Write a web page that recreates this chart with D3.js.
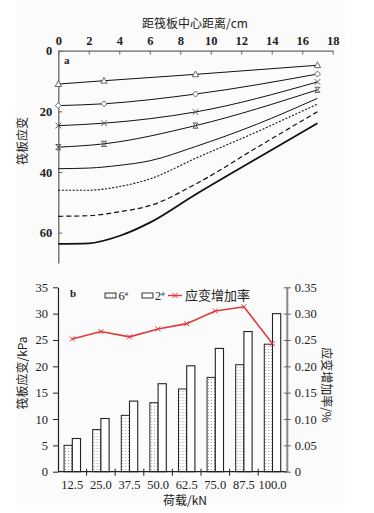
<!DOCTYPE html>
<html>
<head>
<meta charset="utf-8">
<script src="https://cdn.jsdelivr.net/npm/d3@7"></script>
<style>
  body { margin: 0; background: #fff; }
  svg { display: block; }
</style>
</head>
<body>
<div id="chart"></div>
<script>
// ---- panel a: strain vs distance from raft centre ----
const distances = [0, 3, 9, 17];
const distancesFine = [0, 2, 4, 6, 9, 13, 17];
const curveA1 = [11.0, 9.9, 7.8, 4.8];     // triangle
const curveA2 = [18.1, 17.5, 14.3, 7.7];   // diamond
const curveA3 = [24.7, 23.9, 20.2, 10.3];  // cross
const curveA4 = [31.8, 30.7, 24.7, 12.9];  // asterisk
const curveA5 = [38.9, 38.7, 37.8, 36.3, 31.6, 24.3, 15.7];  // solid, no marker
const curveA6 = [46.0, 46.0, 44.8, 42.3, 35.5, 26.8, 17.6];  // dotted
const curveA7 = [54.6, 54.4, 53.1, 51.1, 44.0, 32.0, 20.1];  // dashed
const curveA8 = [63.7, 63.5, 61.1, 56.7, 47.4, 35.6, 23.9];  // thick solid
const xTicksA = [0, 2, 4, 6, 8, 10, 12, 14, 16, 18];
const yTicksA = [0, 20, 40, 60];

// ---- panel b: strain by load ----
const loads = ['12.5', '25.0', '37.5', '50.0', '62.5', '75.0', '87.5', '100.0'];
const raft6 = [5.0, 8.0, 10.7, 13.1, 15.7, 17.9, 20.3, 24.2];
const raft2 = [6.3, 10.1, 13.4, 16.7, 20.1, 23.4, 26.6, 30.0];
const growthRate = [0.252, 0.266, 0.256, 0.271, 0.281, 0.305, 0.313, 0.243];
const yTicksB = [0, 5, 10, 15, 20, 25, 30, 35];
const yTicksB2 = [0, 0.05, 0.10, 0.15, 0.20, 0.25, 0.30, 0.35];

const SERIF = '"Liberation Serif", "DejaVu Serif", "Times New Roman", serif';
const CJK = '"Noto Sans CJK SC", "Noto Sans", sans-serif';

const width = 374, height = 513;
const svg = d3.select('#chart').append('svg')
  .attr('width', width).attr('height', height);

svg.append('rect').attr('x', 16).attr('y', 0).attr('width', 329).attr('height', 505)
  .attr('fill', '#fbfbfb');

function numStyle(sel, bold) {
  sel.style('font-family', SERIF).style('font-size', '12.5px').style('fill', '#222')
    .style('font-weight', bold ? 'bold' : 'normal');
}
function cjkText(x, y, txt, rot) {
  const t = svg.append('text')
    .style('font-family', CJK).style('font-size', '12px').style('fill', '#222')
    .attr('text-anchor', 'middle').text(txt);
  t.attr('transform', `translate(${x},${y})` + (rot ? ` rotate(${rot})` : ''));
  return t;
}

// ================= panel a =================
const xA = d3.scaleLinear().domain([0, 18]).range([58.3, 332.7]);
const yA = d3.scaleLinear().domain([0, 70]).range([50.7, 263]);

const axisColor = '#666';

// top axis
const topAxis = svg.append('g').attr('transform', `translate(0,${yA(0)})`)
  .call(d3.axisTop(xA).tickValues(xTicksA).tickSizeInner(-4).tickSizeOuter(0).tickPadding(6));
topAxis.select('.domain').attr('stroke', axisColor).attr('stroke-width', 1.3);
topAxis.selectAll('.tick line').attr('stroke', axisColor);
topAxis.selectAll('.tick text').call(numStyle, true);

// left axis
const leftAxisA = svg.append('g').attr('transform', `translate(${xA(0)},0)`)
  .call(d3.axisLeft(yA).tickValues(yTicksA).tickSizeInner(-4).tickSizeOuter(0).tickPadding(6));
leftAxisA.select('.domain').attr('stroke', axisColor).attr('stroke-width', 1.3);
leftAxisA.selectAll('.tick line').attr('stroke', axisColor);
leftAxisA.selectAll('.tick text').call(numStyle, true);

cjkText(195, 28, '距筏板中心距离/cm');
cjkText(27, 141, '筏板应变', -90);
svg.append('text').attr('x', 64).attr('y', 64).text('a')
  .call(numStyle, true).style('font-size', '11px');

const lineCoarse = d3.line()
  .x((d, i) => xA(distances[i])).y(d => yA(d))
  .curve(d3.curveMonotoneX);
const lineFine = d3.line()
  .x((d, i) => xA(distancesFine[i])).y(d => yA(d))
  .curve(d3.curveMonotoneX);

const seriesA = [
  { values: curveA1, marker: 'triangle', dash: null, w: 1 },
  { values: curveA2, marker: 'diamond', dash: null, w: 1 },
  { values: curveA3, marker: 'cross', dash: null, w: 1 },
  { values: curveA4, marker: 'asterisk', dash: null, w: 1 },
  { values: curveA5, marker: null, dash: null, w: 1 },
  { values: curveA6, marker: null, dash: '2,1.6', w: 1.1 },
  { values: curveA7, marker: null, dash: '5,3', w: 1.2 },
  { values: curveA8, marker: null, dash: null, w: 1.8 }
];

seriesA.forEach(s => {
  const gen = s.marker ? lineCoarse : lineFine;
  svg.append('path')
    .attr('d', gen(s.values))
    .attr('fill', 'none')
    .attr('stroke', '#111')
    .attr('stroke-width', s.w)
    .attr('stroke-dasharray', s.dash);

  if (!s.marker) return;
  s.values.forEach((v, i) => {
    const g = svg.append('g').attr('transform', `translate(${xA(distances[i])},${yA(v)})`);
    if (s.marker === 'triangle') {
      g.append('path').attr('d', 'M0,-3.3L3.2,2.4L-3.2,2.4Z').attr('fill', '#fff').attr('stroke', '#555').attr('stroke-width', 0.9);
    } else if (s.marker === 'diamond') {
      g.append('path').attr('d', 'M0,-3L3,0L0,3L-3,0Z').attr('fill', '#fff').attr('stroke', '#555').attr('stroke-width', 0.9);
    } else if (s.marker === 'cross') {
      g.append('path').attr('d', 'M-2.8,-2.8L2.8,2.8M-2.8,2.8L2.8,-2.8').attr('stroke', '#555').attr('stroke-width', 1);
    } else {
      g.append('path').attr('d', 'M-2.6,-2.6L2.6,2.6M-2.6,2.6L2.6,-2.6M-2.4,-2.6L2.4,-2.6M-2.4,2.6L2.4,2.6').attr('stroke', '#555').attr('stroke-width', 1);
    }
  });
});

// ================= panel b =================
const xB = d3.scaleBand().domain(loads).range([58, 286.8]);
const xInner = d3.scaleBand().domain(['6#', '2#']).range([0, xB.bandwidth()]).paddingOuter(0.74);
const yB = d3.scaleLinear().domain([0, 35]).range([471.7, 287.3]);
const yB2 = d3.scaleLinear().domain([0, 0.35]).range([471.7, 287.3]);

const defs = svg.append('defs');
const pat = defs.append('pattern').attr('id', 'dots')
  .attr('patternUnits', 'userSpaceOnUse').attr('width', 3).attr('height', 3);
pat.append('rect').attr('width', 3).attr('height', 3).attr('fill', '#fff');
pat.append('rect').attr('x', 1).attr('y', 1).attr('width', 0.9).attr('height', 0.9).attr('fill', '#8a8a8a');

// bars
const groups = svg.append('g').selectAll('g').data(loads).join('g')
  .attr('transform', d => `translate(${xB(d)},0)`);
groups.append('rect')
  .attr('x', xInner('6#'))
  .attr('y', (d, i) => yB(raft6[i]))
  .attr('width', xInner.bandwidth())
  .attr('height', (d, i) => yB(0) - yB(raft6[i]))
  .attr('fill', 'url(#dots)').attr('stroke', '#222').attr('stroke-width', 1);
groups.append('rect')
  .attr('x', xInner('2#'))
  .attr('y', (d, i) => yB(raft2[i]))
  .attr('width', xInner.bandwidth())
  .attr('height', (d, i) => yB(0) - yB(raft2[i]))
  .attr('fill', '#fff').attr('stroke', '#222').attr('stroke-width', 1.1);

// bottom axis with ticks at band edges
const bottom = svg.append('g').attr('transform', `translate(0,${yB(0)})`);
bottom.append('line').attr('x1', 58).attr('x2', 286.8).attr('stroke', '#222').attr('stroke-width', 1.2);
bottom.selectAll('.edge').data(loads.slice(1)).join('line')
  .attr('x1', d => xB(d)).attr('x2', d => xB(d))
  .attr('y1', -3).attr('y2', 4).attr('stroke', '#222');
bottom.selectAll('text').data(loads).join('text')
  .attr('x', d => xB(d) + xB.bandwidth() / 2)
  .attr('y', 17.5)
  .attr('text-anchor', 'middle')
  .text(d => d)
  .call(numStyle, false);

// left axis
const leftB = svg.append('g').attr('transform', 'translate(58,0)')
  .call(d3.axisLeft(yB).tickValues(yTicksB).tickSizeInner(5).tickSizeOuter(0).tickPadding(5));
leftB.select('.domain').attr('stroke', '#222').attr('stroke-width', 1.2);
leftB.selectAll('.tick line').attr('stroke', '#222');
leftB.selectAll('.tick text').call(numStyle, false);

// right axis
const rightB = svg.append('g').attr('transform', 'translate(286.8,0)')
  .call(d3.axisRight(yB2).tickValues(yTicksB2).tickSizeInner(4).tickSizeOuter(0).tickPadding(4)
    .tickFormat(d => d === 0 ? '0' : d3.format('.2f')(d)));
rightB.select('.domain').attr('stroke', '#888').attr('stroke-width', 2);
rightB.selectAll('.tick line').attr('stroke', '#666').attr('x1', -3);
rightB.selectAll('.tick text').call(numStyle, false);

// rate line
const lineB = d3.line()
  .x((d, i) => xB(loads[i]) + xB.bandwidth() / 2)
  .y(d => yB2(d));
svg.append('path').attr('d', lineB(growthRate))
  .attr('fill', 'none').attr('stroke', '#e0383c').attr('stroke-width', 1.6);
svg.append('g').selectAll('path').data(growthRate).join('path')
  .attr('transform', (d, i) => `translate(${xB(loads[i]) + xB.bandwidth() / 2},${yB2(d)})`)
  .attr('d', 'M-2.5,-2.5L2.5,2.5M-2.5,2.5L2.5,-2.5')
  .attr('stroke', '#e0383c').attr('stroke-width', 1);

// titles panel b
svg.append('text').attr('x', 70).attr('y', 297).text('b')
  .call(numStyle, true).style('font-size', '11px');
cjkText(185, 505, '荷载/kN');
cjkText(27, 373, '筏板应变/kPa', -90);
cjkText(322, 385, '应变增加率/%', 90);

// legend
const legend = svg.append('g').attr('transform', 'translate(0,295.5)');
legend.append('rect').attr('x', 105).attr('y', -2.5).attr('width', 11).attr('height', 5)
  .attr('fill', 'url(#dots)').attr('stroke', '#222').attr('stroke-width', 0.9);
const t6 = legend.append('text').attr('x', 118.5).attr('y', 4.5).call(numStyle, false);
t6.append('tspan').text('6');
t6.append('tspan').attr('dy', -4).style('font-size', '7px').text('#');
legend.append('rect').attr('x', 142).attr('y', -2.5).attr('width', 11).attr('height', 5)
  .attr('fill', '#fff').attr('stroke', '#222').attr('stroke-width', 0.9);
const t2 = legend.append('text').attr('x', 155).attr('y', 4.5).call(numStyle, false);
t2.append('tspan').text('2');
t2.append('tspan').attr('dy', -4).style('font-size', '7px').text('#');
legend.append('line').attr('x1', 168).attr('x2', 182).attr('stroke', '#e0383c').attr('stroke-width', 1.4);
legend.append('path').attr('d', 'M172.5,-2.5L177.5,2.5M172.5,2.5L177.5,-2.5')
  .attr('stroke', '#e0383c').attr('stroke-width', 1);
legend.append('text').attr('x', 185).attr('y', 4.5)
  .style('font-family', CJK).style('font-size', '13px').style('fill', '#222')
  .text('应变增加率');
</script>
</body>
</html>
